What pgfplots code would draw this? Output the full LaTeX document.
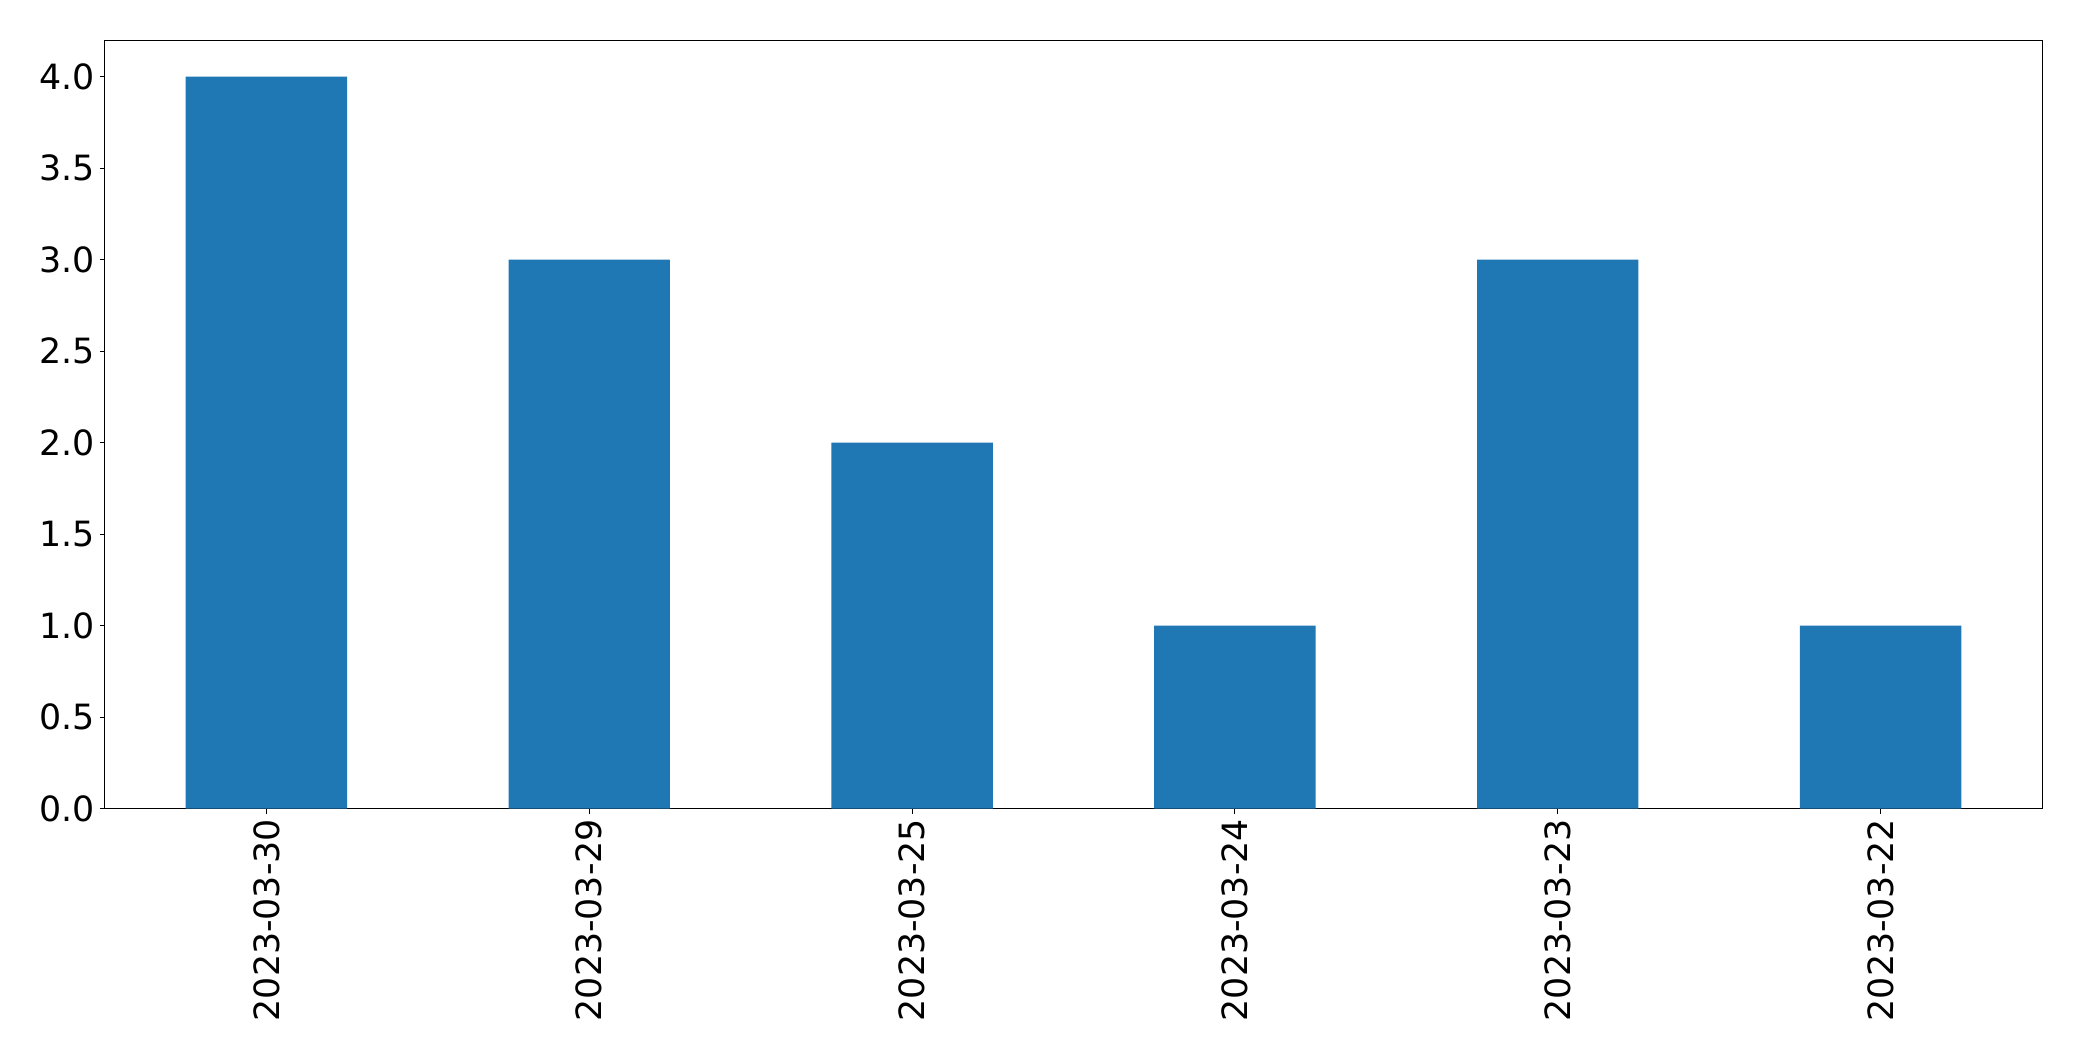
\documentclass[border=0pt]{standalone}
\usepackage{pgfplots}
\pgfplotsset{compat=1.18}
\usepackage{fontspec}
\setmainfont{DejaVu Sans}
\usetikzlibrary{calc}
\definecolor{barblue}{HTML}{1F77B4}
\begin{document}
\begin{tikzpicture}
\begin{axis}[
 scale only axis, width=968.5pt, height=384.3pt,
 xmin=-0.5, xmax=5.5, ymin=0, ymax=4.2,
 ybar, bar width=0.5, bar shift=0pt,
 xtick={0,1,2,3,4,5},
 xticklabels={2023-03-30,2023-03-29,2023-03-25,2023-03-24,2023-03-23,2023-03-22},
 x tick label style={rotate=90, anchor=east, inner sep=2.5pt},
 y tick label style={inner sep=2.5pt},
 ytick={0,0.5,1,1.5,2,2.5,3,3.5,4},
 yticklabel style={/pgf/number format/.cd, fixed, fixed zerofill, precision=1},
 /pgf/number format/assume math mode=true,
 tick align=outside, xtick pos=bottom, ytick pos=left,
 major tick length=2.5pt,
 font=\fontsize{17.4}{21}\selectfont,
 tick style={black, line width=0.5pt},
 axis line style={black, line width=0.5pt},
]
\addplot[fill=barblue, draw=none] coordinates {(0,4) (1,3) (2,2) (3,1) (4,3) (5,1)};
\end{axis}
\path ($(current axis.south west)+(-52.5pt,-126.2pt)$) rectangle ($(current axis.north east)+(20pt,20pt)$);
\end{tikzpicture}
\end{document}
